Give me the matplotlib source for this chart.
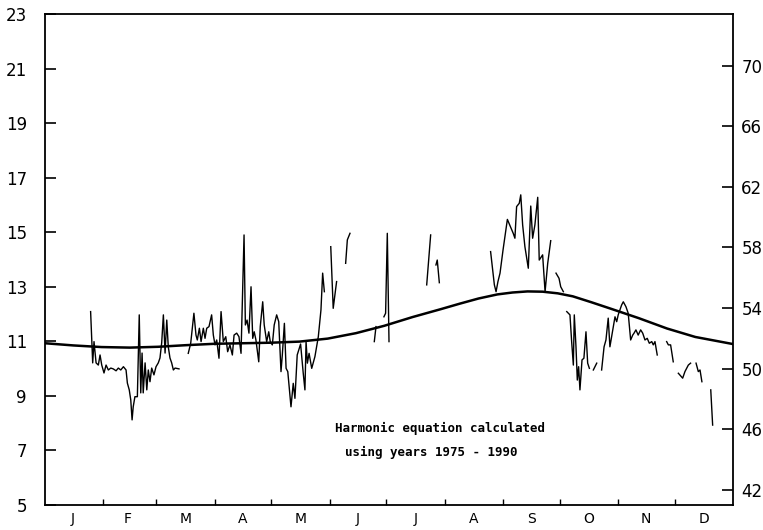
import numpy as np
import matplotlib
matplotlib.use("Agg")
import matplotlib.pyplot as plt

nan = np.nan

# Harmonic curve (deg C) read at day-of-year
harm_day = [0, 15, 30, 45, 60, 75, 90, 105, 120, 135, 150, 165, 180, 195, 210,
            220, 230, 240, 248, 256, 264, 272, 280, 290, 300, 315, 330, 345, 365]
harm_val = [10.93, 10.85, 10.79, 10.77, 10.80, 10.86, 10.91, 10.93, 10.95, 10.99,
            11.10, 11.30, 11.57, 11.89, 12.18, 12.38, 12.57, 12.72, 12.79, 12.83,
            12.82, 12.76, 12.65, 12.43, 12.20, 11.85, 11.47, 11.16, 10.90]

# Daily observations (deg C); nan separates gaps in the record
obs_day = [
    24.2, 25.3, 26.0, 27.1, 28.3, 29.2, 30.1, 31.3, 32.4, 33.6, 34.9, 36.2, 37.7, 38.9,
    40.2, 41.6, 43.0, 43.7, 44.7, 45.5, 46.2, 46.8, 47.7, 49.0, 50.0, 50.8, 51.5, 52.1,
    53.1, 54.0, 54.8, 55.7, 56.6, 57.8, 58.9, 60.1, 61.0, 61.9, 62.8, 63.7, 64.6, 65.4,
    66.3, 67.2, 68.1, 69.0, 71.1, nan,
    76.0, 77.3, 79.0, 80.1, 80.8, 81.9, 82.8, 84.0, 84.9, 85.8, 87.0, 88.4, 89.3, 90.2,
    91.1, 92.3, 93.4, 94.6, 95.9, 96.9, 98.1, 99.4, 100.3, 101.7, 102.9, 104.0, 105.6,
    106.3, 107.2, 108.2, 109.3, 110.2, 111.0, 111.9, 113.4, 114.2, 115.5, 116.3, 117.6,
    118.7, 119.5, 120.6, 121.6, 122.9, 124.0, 125.2, 125.9, 127.0, 127.9, 128.8, 130.5,
    131.7, 132.6, 133.8, 135.6, 137.0, 137.9, 138.5, 139.2, 140.1, 141.5, 143.2, 145.0,
    146.4, 147.3, 148.2, nan,
    151.6, 152.9, 154.7, nan,
    159.5, 160.4, 161.8, nan,
    174.7, 175.6, nan,
    179.8, 180.7, 181.6, 182.5, nan,
    202.5, 204.6, nan,
    207.4, 208.1, 209.2, nan,
    236.4, 238.4, 239.3, 240.3, 241.4, 243.0, 245.3, 248.4, 249.3, 250.2, 251.6, 252.4,
    253.4, 254.6, 256.4, 257.7, 258.7, 259.9, 261.4, 262.2, 264.0, 265.3, 266.7, 268.3, nan,
    271.1, 272.7, 273.6, 275.0, nan,
    276.8, 278.5, 279.4, 280.3, 280.8, 281.7, 282.4, 283.1, 283.8, 284.9, 285.9, 287.0,
    287.9, 288.8, nan,
    290.9, 292.7, nan,
    295.3, 296.6, 297.6, 298.8, 299.7, 301.2, 302.4, 303.3, 304.1, 305.9, 306.8, 308.2,
    309.4, 310.7, 311.8, 312.5, 313.5, 314.7, 316.0, 317.1, 318.3, 319.5, 320.6, 321.9,
    322.7, 323.6, 324.8, nan,
    329.8, 330.7, 331.9, 333.3, nan,
    336.0, 338.3, 339.5, 341.3, 342.5, nan,
    345.4, 346.6, 347.5, 348.5, nan,
    353.2, 354.2,
]
obs_val = [
    12.09, 10.21, 10.99, 10.21, 10.13, 10.50, 10.13, 9.84, 10.13, 9.95, 10.02, 9.99, 9.92, 10.02,
    9.95, 10.07, 9.95, 9.47, 9.22, 8.85, 8.12, 8.60, 8.97, 8.97, 11.97, 9.11, 10.57, 9.11,
    10.21, 9.22, 9.95, 9.52, 10.02, 9.77, 10.07, 10.21, 10.39, 10.94, 11.97, 10.57, 11.78, 10.80,
    10.39, 10.21, 9.95, 10.02, 9.99, nan,
    10.56, 10.93, 12.03, 11.23, 11.05, 11.48, 10.99, 11.48, 11.11, 11.48, 11.54, 11.97, 11.23, 10.87,
    11.05, 10.38, 12.09, 10.99, 11.17, 10.62, 10.87, 10.50, 11.23, 11.30, 11.17, 10.56, 14.90,
    11.60, 11.78, 11.30, 13.00, 11.11, 11.35, 11.05, 10.25, 11.54, 12.45, 11.60, 10.99,
    11.35, 10.99, 10.87, 11.60, 11.97, 11.72, 9.89, 10.50, 11.66, 10.01, 9.89, 8.60,
    9.46, 8.91, 10.50, 10.90, 9.83, 9.22, 10.99, 10.20, 10.56, 10.01, 10.44, 11.17,
    12.15, 13.50, 12.82, nan,
    14.47, 12.21, 13.19, nan,
    13.86, 14.72, 14.96, nan,
    10.99, 11.54, nan,
    11.90, 12.03, 14.96, 10.99, nan,
    13.07, 14.90, nan,
    13.80, 13.98, 13.15, nan,
    14.29, 13.07, 12.82, 13.19, 13.50, 14.35, 15.47, 14.96, 14.78, 15.94, 16.06, 16.37,
    15.27, 14.47, 13.68, 15.96, 14.78, 15.27, 16.28, 13.98, 14.17, 12.82, 13.86, 14.69, nan,
    13.50, 13.31, 13.00, 12.82, nan,
    12.09, 11.97, 10.99, 10.13, 11.97, 10.80, 9.58, 10.07, 9.22, 10.32, 10.38, 11.35,
    10.20, 10.01, nan,
    9.95, 10.20, nan,
    9.95, 10.80, 11.05, 11.85, 10.80, 11.42, 11.90, 11.72, 11.97, 12.33, 12.45, 12.27,
    12.03, 11.05, 11.23, 11.30, 11.42, 11.23, 11.42, 11.30, 11.05, 11.11, 10.93, 10.99,
    10.87, 10.99, 10.50, nan,
    10.99, 10.87, 10.87, 10.25, nan,
    9.83, 9.65, 9.89, 10.13, 10.20, nan,
    10.20, 9.89, 9.95, 9.52, nan,
    9.22, 7.93,
]

month_starts = [31, 59, 90, 120, 151, 181, 212, 243, 273, 304, 334]
month_mids = [14.5, 44, 74.5, 105, 135.5, 166, 196.5, 227.5, 258, 288.5, 319, 349.5]
month_labels = ["J", "F", "M", "A", "M", "J", "J", "A", "S", "O", "N", "D"]
left_ticks = [5, 7, 9, 11, 13, 15, 17, 19, 21, 23]
right_ticks = [42, 46, 50, 54, 58, 62, 66, 70]
note_lines = ["Harmonic equation calculated", "using years 1975 - 1990"]

fig = plt.figure(figsize=(7.63, 5.30), dpi=100)
ax = fig.add_axes([45 / 763, 1 - 505 / 530, 688 / 763, 491 / 530])

ax.plot(obs_day, obs_val, color="black", lw=1.0)
ax.plot(harm_day, harm_val, color="black", lw=1.8)

ax.set_xlim(0, 365)
ax.set_ylim(5, 23)

for s in ax.spines.values():
    s.set_linewidth(1.3)

ax.set_yticks(left_ticks)
ax.set_yticklabels([str(t) for t in left_ticks])
ax.tick_params(axis="y", direction="in", length=8, width=1.2, pad=13, labelsize=12)

ax.set_xticks(month_starts)
ax.set_xticklabels([])
ax.set_xticks(month_mids, minor=True)
ax.set_xticklabels(month_labels, minor=True)
ax.tick_params(axis="x", which="major", direction="in", length=4, width=1.0)
ax.tick_params(axis="x", which="minor", length=0, pad=5, labelsize=10)

ax2 = ax.twinx()
ax2.set_ylim(5 * 9 / 5 + 32, 23 * 9 / 5 + 32)
ax2.set_yticks(right_ticks)
ax2.set_yticklabels([str(t) for t in right_ticks])
ax2.tick_params(axis="y", direction="in", length=8, width=1.2, pad=6, labelsize=12)
for s in ax2.spines.values():
    s.set_visible(False)

ax.text(209.5, 7.82, note_lines[0], ha="center", va="center",
        family="DejaVu Sans Mono", fontweight="bold", fontsize=9)
ax.text(205, 6.94, note_lines[1], ha="center", va="center",
        family="DejaVu Sans Mono", fontweight="bold", fontsize=9)

fig.savefig("out.png", dpi=100)
